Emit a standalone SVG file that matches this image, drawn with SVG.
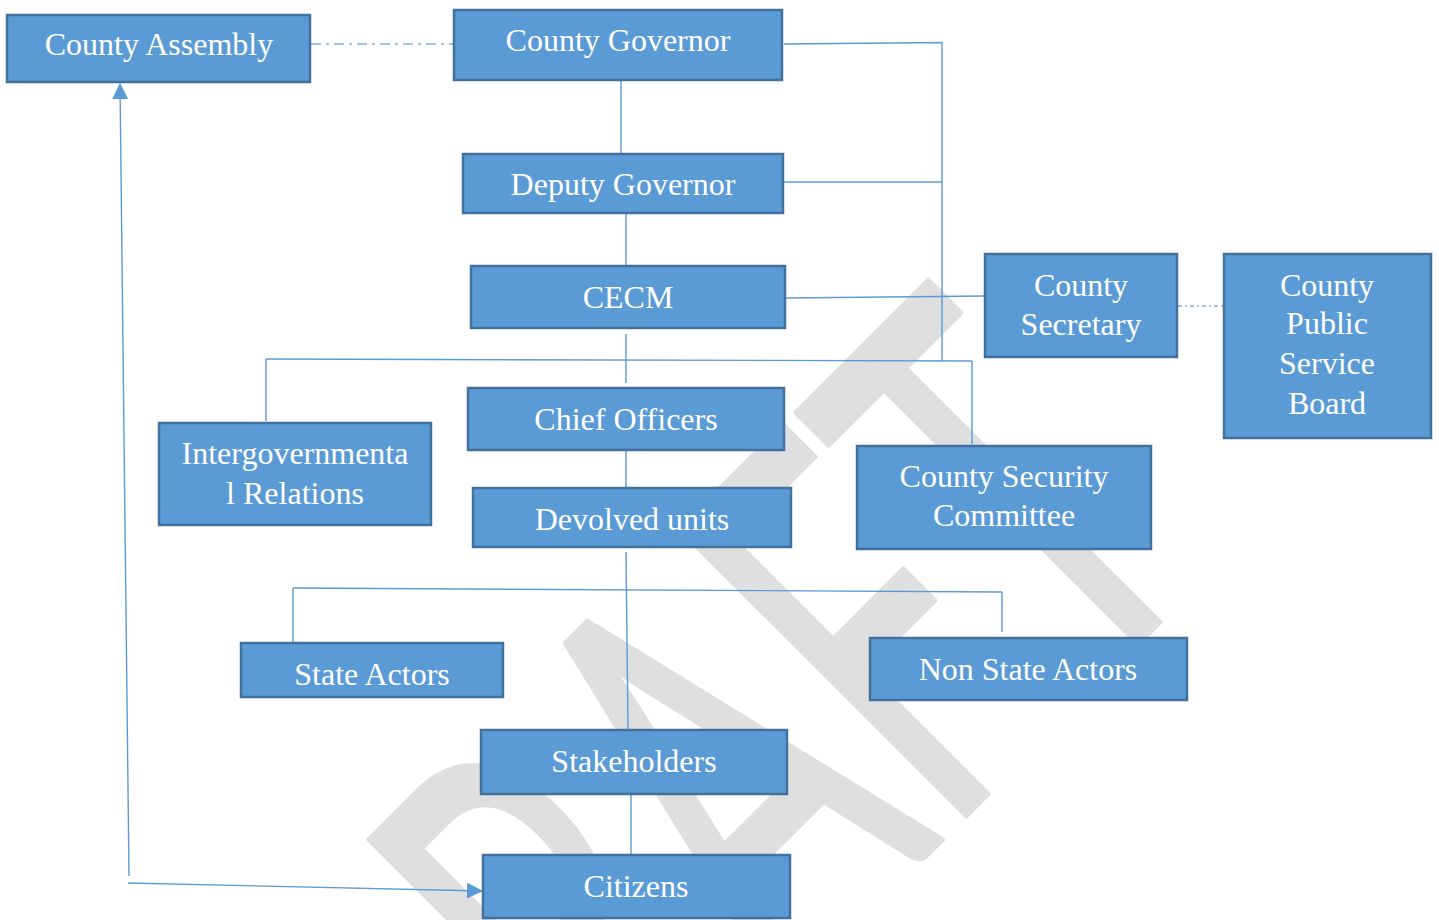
<svg xmlns="http://www.w3.org/2000/svg" width="1439" height="920" viewBox="0 0 1439 920">
<style>
.box rect{fill:#5b9bd5;stroke:#41719c;stroke-width:2.5}
.box text{fill:#ffffff;font-family:"Liberation Serif","Times New Roman",serif;font-size:32px;text-anchor:middle}
.ln{fill:none;stroke:#5b9bd5;stroke-width:1.4}
.dd{fill:none;stroke:#7eb0e2;stroke-width:1.4;stroke-dasharray:10 5 3 5}
.wm{fill:#dfdfdf;stroke:#dfdfdf;stroke-width:5;stroke-linejoin:round;font-family:Lato,"Noto Sans",sans-serif;font-size:566px}
</style>
<defs>
<marker id="ah" viewBox="0 0 16 16" refX="15" refY="8" markerWidth="16" markerHeight="16" markerUnits="userSpaceOnUse" orient="auto">
<path d="M0,0 L16,8 L0,16 Z" fill="#5b9bd5"/>
</marker>
</defs>
<rect width="1439" height="920" fill="#ffffff"/>
<g id="watermark">
<text class="wm" x="0" y="0" transform="translate(452,1330) rotate(-45)" textLength="1085" lengthAdjust="spacingAndGlyphs">DRAFT</text>
</g>
<g id="connectors">
<path class="dd" d="M311,44 L453,44"/>
<path class="dd" d="M1178,306 L1223,306" style="stroke-dasharray:4 3 2 3"/>
<path class="ln" d="M784,44 L942,42.5 L942,361"/>
<path class="ln" d="M784,182 L942,182"/>
<path class="ln" d="M786,298 L985,296"/>
<path class="ln" d="M621,81 L621,154"/>
<path class="ln" d="M626,213 L626,266"/>
<path class="ln" d="M626,334 L626,383"/>
<path class="ln" d="M266,359 L972,361"/>
<path class="ln" d="M266,359 L266,421"/>
<path class="ln" d="M972,361 L972,444"/>
<path class="ln" d="M626,451 L626,488"/>
<path class="ln" d="M626,552 L628,730"/>
<path class="ln" d="M293,588 L1002,592"/>
<path class="ln" d="M293,588 L293,643"/>
<path class="ln" d="M1002,592 L1002,632"/>
<path class="ln" d="M631,795 L631,855"/>
<path class="ln" d="M129,876 L120,84" marker-end="url(#ah)"/>
<path class="ln" d="M128,883 L482,891" marker-end="url(#ah)"/>
</g>
<g id="county-assembly" class="box"><rect x="7" y="15" width="303" height="67"/><text x="159" y="55">County Assembly</text></g>
<g id="county-governor" class="box"><rect x="454" y="10" width="328" height="70"/><text x="618" y="51">County Governor</text></g>
<g id="deputy-governor" class="box"><rect x="463" y="154" width="320" height="59"/><text x="623" y="195">Deputy Governor</text></g>
<g id="cecm" class="box"><rect x="471" y="266" width="314" height="62"/><text x="628" y="308">CECM</text></g>
<g id="county-secretary" class="box"><rect x="985" y="254" width="192" height="103"/><text x="1081" y="296">County</text><text x="1081" y="335">Secretary</text></g>
<g id="county-public-service-board" class="box"><rect x="1224" y="254" width="207" height="184"/><text x="1327" y="296">County</text><text x="1327" y="334">Public</text><text x="1327" y="374">Service</text><text x="1327" y="414">Board</text></g>
<g id="intergovernmental-relations" class="box"><rect x="159" y="423" width="272" height="102"/><text x="295" y="464">Intergovernmenta</text><text x="295" y="504">l Relations</text></g>
<g id="chief-officers" class="box"><rect x="468" y="388" width="316" height="62"/><text x="626" y="430">Chief Officers</text></g>
<g id="devolved-units" class="box"><rect x="473" y="488" width="318" height="59"/><text x="632" y="530">Devolved units</text></g>
<g id="county-security-committee" class="box"><rect x="857" y="446" width="294" height="103"/><text x="1004" y="487">County Security</text><text x="1004" y="526">Committee</text></g>
<g id="state-actors" class="box"><rect x="241" y="643" width="262" height="54"/><text x="372" y="685">State Actors</text></g>
<g id="non-state-actors" class="box"><rect x="870" y="638" width="317" height="62"/><text x="1028" y="680">Non State Actors</text></g>
<g id="stakeholders" class="box"><rect x="481" y="730" width="306" height="64"/><text x="634" y="772">Stakeholders</text></g>
<g id="citizens" class="box"><rect x="483" y="855" width="307" height="63"/><text x="636" y="897">Citizens</text></g>
</svg>
